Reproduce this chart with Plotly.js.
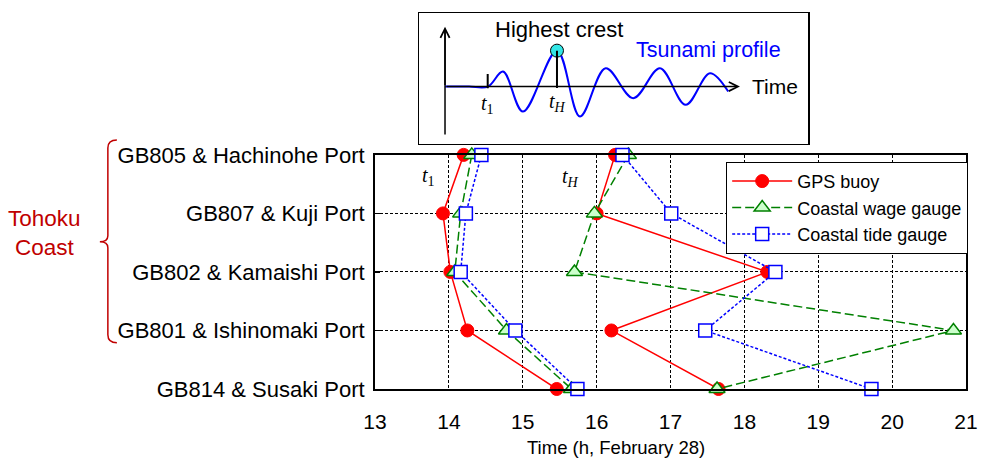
<!DOCTYPE html>
<html>
<head>
<meta charset="utf-8">
<script src="https://cdn.plot.ly/plotly-3.0.1.min.js"></script>
<style>html,body{margin:0;padding:0;background:#fff;}#chart{width:994px;height:461px;}</style>
</head>
<body>
<div id="chart"></div>
<script>
// ---- Data ----
const categories = ["GB805 & Hachinohe Port", "GB807 & Kuji Port", "GB802 & Kamaishi Port", "GB801 & Ishinomaki Port", "GB814 & Susaki Port"];
const xTicks = [13, 14, 15, 16, 17, 18, 19, 20, 21];
const gpsT1  = [14.20, 13.92, 14.02, 14.25, 15.46];
const gpsTH  = [16.25, 16.00, 18.31, 16.20, 17.65];
const waveT1 = [14.31, 14.16, 14.08, 14.78, 15.66];
const waveTH = [16.43, 15.97, 15.70, 20.83, 17.63];
const tideT1 = [14.44, 14.23, 14.16, 14.90, 15.74];
const tideTH = [16.35, 17.01, 18.42, 17.47, 19.72];
const seriesNames = ["GPS buoy", "Coastal wage gauge", "Coastal tide gauge"];
// schematic tsunami profile (inset): extrema of the sketched wave
const profileTime = [26, 50, 69, 84, 104, 138, 161, 186.7, 214.3, 241, 266.7, 291, 309.3];
const profileAmp  = [0, 0, 0, 15, -25, 36, -30, 18.4, -11.6, 18.4, -18.3, 13.4, -5];
const crestTime = [138], crestAmp = [36];
const t1Time = 68.7;

// ---- Geometry helpers ----
const W = 994, H = 461, L = 375, R = 28.3, T = 13, B = 71.7;
const pw = W - L - R, ph = H - T - B;
const fx = v => (v - L) / pw;
const fy = v => (H - B - v) / ph;

function joinXY(a, b) {
  return {x: a.concat([null], b), y: categories.concat([null], categories)};
}
const g = joinXY(gpsT1, gpsTH), w = joinXY(waveT1, waveTH), t = joinXY(tideT1, tideTH);

const FONT = 'Arial, "Liberation Sans", sans-serif';
const SERIF = '"Times New Roman", "Liberation Serif", serif';

const traces = [
  {type: 'scatter', mode: 'lines+markers', name: seriesNames[0], x: g.x, y: g.y, cliponaxis: false, connectgaps: false,
   line: {color: '#ff0000', width: 1.5},
   marker: {symbol: 'circle', size: 13, color: '#ff0000', line: {color: '#ff0000', width: 1}}},
  {type: 'scatter', mode: 'lines+markers', name: seriesNames[1], x: w.x, y: w.y, cliponaxis: false, connectgaps: false,
   line: {color: '#008000', width: 1.5, dash: '9px,4px'},
   marker: {symbol: 'triangle-up', size: 14, color: '#ccffcc', line: {color: '#008000', width: 1.5}}},
  {type: 'scatter', mode: 'lines+markers', name: seriesNames[2], x: t.x, y: t.y, cliponaxis: false, connectgaps: false,
   line: {color: '#0000ff', width: 1.5, dash: '3px,2px'},
   marker: {symbol: 'square', size: 13, color: '#ffffff', line: {color: '#0000ff', width: 1.5}}},
  {type: 'scatter', mode: 'lines', x: profileTime, y: profileAmp, xaxis: 'x2', yaxis: 'y2', showlegend: false,
   line: {color: '#0000ff', width: 2, shape: 'spline', smoothing: 1}},
  {type: 'scatter', mode: 'markers', x: crestTime, y: crestAmp, xaxis: 'x2', yaxis: 'y2', showlegend: false, cliponaxis: false,
   marker: {size: 13, color: '#33e6e6', line: {color: '#000000', width: 1}}}
];

const bracePath = `M ${fx(117)},${fy(140)} Q ${fx(108)},${fy(140)} ${fx(108)},${fy(148)} L ${fx(108)},${fy(236)} ` +
  `Q ${fx(108)},${fy(242)} ${fx(100)},${fy(242)} Q ${fx(108)},${fy(242)} ${fx(108)},${fy(248)} ` +
  `L ${fx(108)},${fy(335)} Q ${fx(108)},${fy(343)} ${fx(117)},${fy(343)}`;

const layout = {
  width: W, height: H,
  margin: {l: L, r: R, t: T, b: B, pad: 0},
  paper_bgcolor: '#ffffff', plot_bgcolor: '#ffffff',
  font: {family: FONT, color: '#000000', size: 18},
  showlegend: true,
  legend: {x: fx(726), y: fy(162), xanchor: 'left', yanchor: 'top', bgcolor: '#ffffff',
           bordercolor: '#000000', borderwidth: 1, font: {family: FONT, size: 18, color: '#000'},
           tracegroupgap: 0, itemwidth: 60},
  xaxis: {domain: [0, 1], anchor: 'y', range: [13, 21], tickvals: xTicks, ticktext: xTicks.map(String),
          showgrid: true, gridcolor: '#000000', gridwidth: 1, griddash: '3px,2px', zeroline: false,
          showline: true, mirror: true, linecolor: '#000000', linewidth: 2, ticks: '',
          tickfont: {family: FONT, size: 21}, ticklabelstandoff: 13},
  yaxis: {domain: [0, fy(155)], anchor: 'x', type: 'category', categoryorder: 'array', categoryarray: categories,
          range: [4, 0], showgrid: true, gridcolor: '#000000', gridwidth: 1, griddash: '3px,2px', zeroline: false,
          showline: true, mirror: true, linecolor: '#000000', linewidth: 2, ticks: 'inside', ticklen: 5,
          tickwidth: 1.5, tickcolor: '#000', tickfont: {family: FONT, size: 22}, ticklabelstandoff: 4},
  xaxis2: {domain: [fx(419), fx(808)], anchor: 'y2', range: [0, 389.3], showgrid: false, zeroline: false,
           showticklabels: false, ticks: '', showline: true, mirror: true, linecolor: '#000', linewidth: 1.5, fixedrange: true},
  yaxis2: {domain: [fy(144), 1], anchor: 'x2', range: [-57.4, 73.7], showgrid: false, zeroline: false,
           showticklabels: false, ticks: '', showline: true, mirror: true, linecolor: '#000', linewidth: 1.5, fixedrange: true},
  shapes: [
    {type: 'line', xref: 'x2', yref: 'y2', x0: 26, x1: 26, y0: -48, y1: 58, line: {color: '#000', width: 1.5}},
    {type: 'line', xref: 'x2', yref: 'y2', x0: t1Time, x1: t1Time, y0: -1.6, y1: 12.7, line: {color: '#000', width: 2}},
    {type: 'line', xref: 'x2', yref: 'y2', x0: crestTime[0], x1: crestTime[0], y0: -1.3, y1: crestAmp[0], line: {color: '#000', width: 2}},
    {type: 'path', xref: 'paper', yref: 'paper', path: bracePath, line: {color: '#c00000', width: 1.5}}
  ],
  annotations: [
    {xref: 'x2', yref: 'y2', axref: 'x2', ayref: 'y2', x: 321, y: 0, ax: 26, ay: 0, text: '', showarrow: true,
     arrowhead: 5, arrowsize: 1.2, arrowwidth: 1.5, arrowcolor: '#000'},
    {xref: 'x2', yref: 'y2', axref: 'x2', ayref: 'y2', x: 26, y: 60, ax: 26, ay: 0, text: '', showarrow: true,
     arrowhead: 5, arrowsize: 1.2, arrowwidth: 1.5, arrowcolor: '#000'},
    {xref: 'x2', yref: 'y2', x: 140, y: 56.7, text: 'Highest crest', showarrow: false, font: {family: FONT, size: 22, color: '#000'}},
    {xref: 'x2', yref: 'y2', x: 290, y: 36.7, text: 'Tsunami profile', showarrow: false, font: {family: FONT, size: 21.5, color: '#0000ff'}},
    {xref: 'x2', yref: 'y2', x: 356, y: 0, text: 'Time', showarrow: false, font: {family: FONT, size: 21, color: '#000'}},
    {xref: 'x2', yref: 'y2', x: 68.7, y: -18.3, text: '<i>t</i><sub>1</sub>', showarrow: false, font: {family: SERIF, size: 20, color: '#000'}},
    {xref: 'x2', yref: 'y2', x: 138.3, y: -16.3, text: '<i>t<sub>H</sub></i>', showarrow: false, font: {family: SERIF, size: 20, color: '#000'}},
    {xref: 'x', yref: 'y', x: 13.73, y: 0.37, text: '<i>t</i><sub>1</sub>', showarrow: false, font: {family: SERIF, size: 20, color: '#000'}},
    {xref: 'x', yref: 'y', x: 15.64, y: 0.39, text: '<i>t<sub>H</sub></i>', showarrow: false, font: {family: SERIF, size: 20, color: '#000'}},
    {xref: 'paper', yref: 'paper', x: fx(45), y: fy(233), xanchor: 'center', yanchor: 'middle', text: 'Tohoku<br>Coast', showarrow: false,
     align: 'center', font: {family: FONT, size: 22.5, color: '#c00000'}},
    {xref: 'paper', yref: 'paper', x: fx(616), y: fy(448), xanchor: 'center', yanchor: 'middle', text: 'Time (h, February 28)', showarrow: false,
     font: {family: FONT, size: 18.5, color: '#000'}}
  ]
};

Plotly.newPlot('chart', traces, layout, {staticPlot: true, displayModeBar: false});
</script>
</body>
</html>
